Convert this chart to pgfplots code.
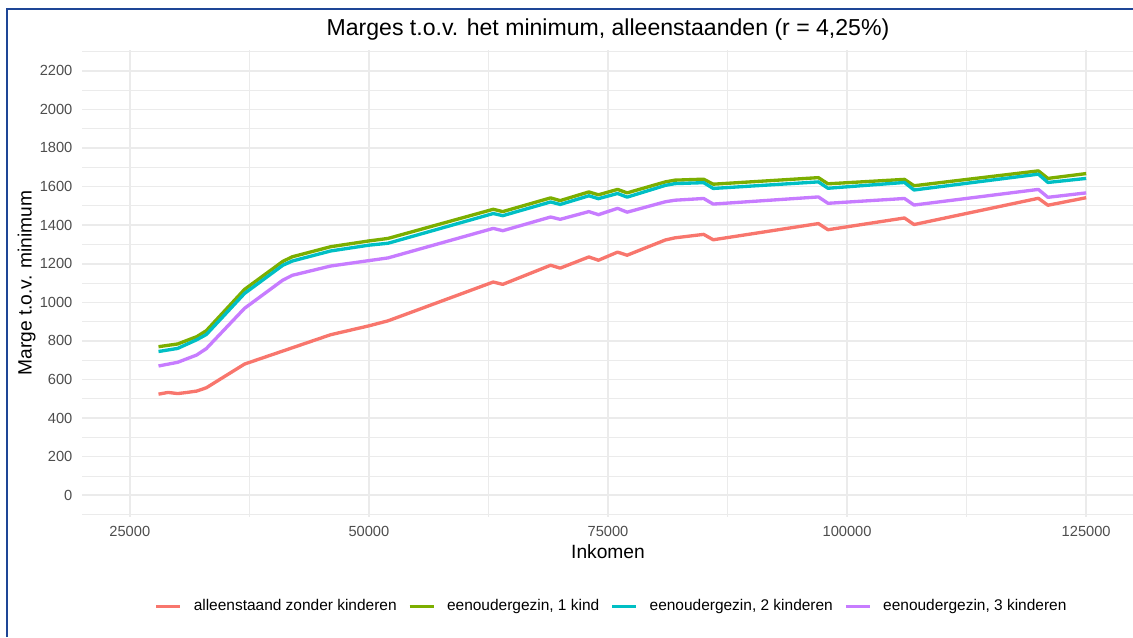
\documentclass[border=0pt]{standalone}
\usepackage{pgfplots}
\pgfplotsset{compat=1.18}
\usepackage{fontspec}
\setmainfont{Liberation Sans}
\definecolor{cred}{HTML}{F8766D}
\definecolor{cgreen}{HTML}{7CAE00}
\definecolor{ccyan}{HTML}{00BFC4}
\definecolor{cpurple}{HTML}{C77CFF}
\definecolor{gridc}{HTML}{EBEBEB}
\definecolor{tickc}{HTML}{4D4D4D}
\definecolor{framec}{RGB}{30,70,150}
\pgfplotstableread{
x y
28000 524
29000 533
30000 527
31000 533
32000 540
33000 557
37000 680
46000 832
50000 878
52000 904
63000 1105
64000 1093
69000 1192
70000 1177
73000 1235
74000 1218
76000 1260
77000 1244
81000 1323
82000 1334
85000 1352
86000 1324
97000 1408
98000 1376
106000 1437
107000 1403
120000 1539
121000 1503
125000 1542
}\tred
\pgfplotstableread{
x y
28000 770
30000 784
32000 822
33000 853
37000 1067
41000 1212
42000 1236
46000 1288
50000 1318
52000 1331
63000 1482
64000 1470
69000 1541
70000 1527
73000 1572
74000 1557
76000 1585
77000 1567
81000 1624
82000 1633
85000 1638
86000 1612
97000 1646
98000 1614
106000 1637
107000 1604
120000 1681
121000 1642
125000 1667
}\tgreen
\pgfplotstableread{
x y
28000 745
30000 761
32000 806
33000 833
37000 1046
41000 1192
42000 1214
46000 1266
50000 1296
52000 1306
63000 1460
64000 1449
69000 1520
70000 1507
73000 1552
74000 1537
76000 1564
77000 1545
81000 1606
82000 1615
85000 1620
86000 1590
97000 1624
98000 1591
106000 1621
107000 1582
120000 1664
121000 1621
125000 1642
}\tcyan
\pgfplotstableread{
x y
28000 670
30000 689
32000 727
33000 760
37000 969
41000 1115
42000 1140
46000 1188
50000 1216
52000 1230
63000 1383
64000 1371
69000 1442
70000 1430
73000 1470
74000 1454
76000 1487
77000 1467
81000 1521
82000 1529
85000 1538
86000 1509
97000 1546
98000 1513
106000 1538
107000 1504
120000 1585
121000 1544
125000 1567
}\tpurple
\begin{document}
\begin{tikzpicture}
\path[use as bounding box] (0pt,0pt) rectangle (849.75pt,477.75pt);
\begin{axis}[
  at={(61.5pt,90.375pt)}, anchor=south west,
  scale only axis, width=789pt, height=350.25pt,
  xmin=20000, xmax=130000, ymin=-110, ymax=2310,
  xtick={25000,50000,75000,100000,125000},
  xticklabels={25000,50000,75000,100000,125000},
  minor xtick={37500,62500,87500,112500},
  ytick={0,200,400,600,800,1000,1200,1400,1600,1800,2000,2200},
  yticklabels={0,200,400,600,800,1000,1200,1400,1600,1800,2000,2200},
  minor ytick={-100,100,300,500,700,900,1100,1300,1500,1700,1900,2100,2300},
  scaled x ticks=false, scaled y ticks=false,
  grid=both,
  major grid style={draw=gridc, line width=1.2pt},
  minor grid style={draw=gridc, line width=0.6pt},
  axis line style={draw=none},
  major tick length=0pt, minor tick length=0pt,
  tick style={draw=none},
  xticklabel style={font=\fontsize{11}{13}\selectfont, text=tickc, anchor=north, inner sep=0pt, yshift=-7pt},
  yticklabel style={font=\fontsize{11}{13}\selectfont, text=tickc, anchor=east, inner sep=0pt, xshift=-7pt},
  clip=false,
  legend columns=4,
  legend cell align=left,
  legend style={draw=none, fill=none, at={(0.5037,-0.192)}, anchor=center,
    font=\fontsize{11.6}{13}\selectfont,
    /tikz/every odd column/.append style={column sep=6.8pt},
    /tikz/every even column/.append style={column sep=6.5pt}},
  legend image code/.code={\draw[#1] (0pt,0pt) -- (18pt,0pt);},
]
\addplot[cred, line width=2.5pt, line join=round] table {\tred};
\addlegendentry{alleenstaand zonder kinderen}
\addplot[cgreen, line width=2.5pt, line join=round] table {\tgreen};
\addlegendentry{eenoudergezin, 1 kind}
\addplot[ccyan, line width=2.5pt, line join=round] table {\tcyan};
\addlegendentry{eenoudergezin, 2 kinderen}
\addplot[cpurple, line width=2.5pt, line join=round] table {\tpurple};
\addlegendentry{eenoudergezin, 3 kinderen}
\end{axis}
\node[anchor=base, font=\fontsize{17.3}{20}\selectfont] at (456pt,450.75pt) {Marges t.o.v. het minimum, alleenstaanden (r = 4,25\%)};
\node[anchor=base, font=\fontsize{14.4}{17}\selectfont] at (456pt,59.25pt) {Inkomen};
\node[anchor=base, rotate=90, font=\fontsize{14.4}{17}\selectfont] at (23.625pt,265.5pt) {Marge t.o.v. minimum};
\draw[framec, line width=1.6pt] (5.25pt,0pt) -- (5.25pt,471pt) -- (849.75pt,471pt);
\end{tikzpicture}
\end{document}
